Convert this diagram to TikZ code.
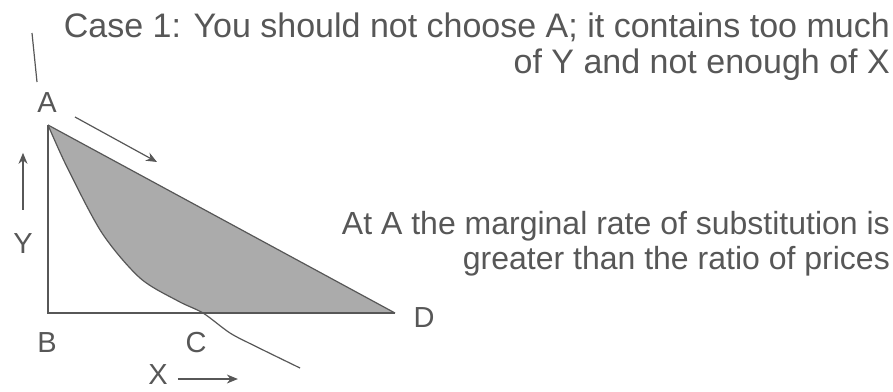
\documentclass[tikz,border=0pt]{standalone}
\usepackage{fontspec}
\setmainfont{Liberation Sans}
\usetikzlibrary{arrows.meta}
\definecolor{ink}{gray}{0.34}
\definecolor{areagray}{gray}{0.67}

\begin{document}
\begin{tikzpicture}[x=1pt,y=-1pt,
  curve/.style={draw=ink,line width=1.2pt},
  arr/.style={curve,-{Stealth[length=11pt,width=9pt]}},
  lbl/.style={text=ink,inner sep=0pt,font=\fontsize{29}{31}\selectfont},
  note/.style={text=ink,inner sep=0pt,anchor=base east,font=\fontsize{34}{37}\selectfont}]
 \useasboundingbox (0,0) rectangle (893,391);
 % corners of the budget triangle
 \coordinate (A) at (48,125);
 \coordinate (B) at (48,313);
 \coordinate (C) at (203,313);
 \coordinate (D) at (395,313);
 \fill[areagray] plot[smooth] coordinates
   {(48,125) (67,167) (102,233) (140,278) (178,301) (203,313)} -- (D) -- cycle;
 \draw[curve] (A) -- (D);
 \draw[curve] (A) -- (B) -- (D);
 % indifference curve
 \draw[curve] (32,33) -- (37,82);
 \draw[curve] plot[smooth] coordinates
   {(48,125) (67,167) (102,233) (140,278) (178,301) (203,313)
    (230,333) (255,346) (300,368)};
 \node[lbl] (labA) at (47,103) {A};
 \node[lbl] (labB) at (47,343) {B};
 \node[lbl] (labC) at (196,343) {C};
 \node[lbl] (labD) at (424,318) {D};
 \node[lbl] (labY) at (23,244) {Y};
 \node[lbl] (labX) at (158,375) {X};
 \draw[arr] (75,117) -- (157,162);
 \draw[arr] (labY.north) ++(0,-24) coordinate (ytail) -- ++(0,-57);
 \draw[arr] (labX.east) ++(10,4) coordinate (xtail) -- ++(60,0);
 \node[note] (case1) at (890,37.7)
   {Case 1: You should not choose A; it contains too much};
 \node[note] (case2) at (890,73) {of Y and not enough of X};
 \node[note,font=\fontsize{32}{35}\selectfont] (mrs1) at (890,234)
   {At A the marginal rate of substitution is};
 \node[note,font=\fontsize{32}{35}\selectfont] (mrs2) at (890,269)
   {greater than the ratio of prices};
\end{tikzpicture}
\end{document}
